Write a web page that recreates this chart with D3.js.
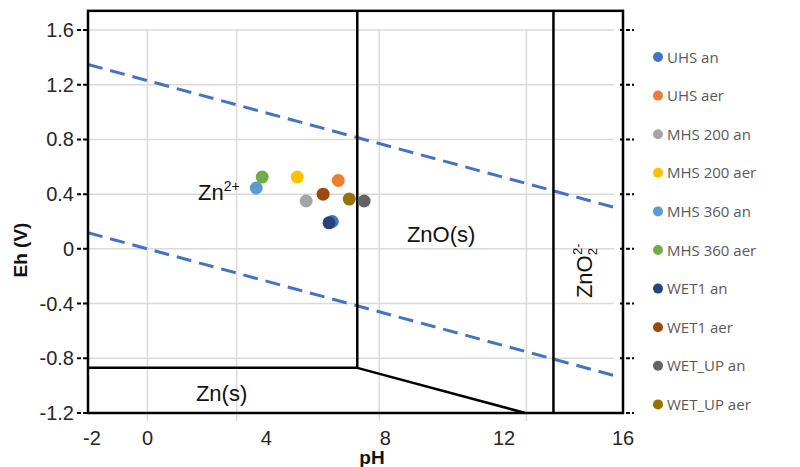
<!DOCTYPE html>
<html>
<head>
<meta charset="utf-8">
<script src="https://cdn.jsdelivr.net/npm/d3@7"></script>
<style>
  body { margin: 0; background: #fff; }
  svg { display: block; }
  .tick-label { font-family: "Liberation Sans", Arial, sans-serif; font-size: 20px; fill: #262626; }
  .aText { font-family: "Liberation Sans", Arial, sans-serif; font-size: 19px; font-weight: bold; fill: #111; }
  .region { font-family: "Liberation Sans", Arial, sans-serif; font-size: 22px; fill: #111; }
  .legend { font-family: "Open Sans", sans-serif; font-size: 15px; fill: #595959; }
</style>
</head>
<body>
<div id="chart"></div>
<script>
var svgWidth = 800;
var svgHeight = 467;

// data
var series = ["UHS an", "UHS aer", "MHS 200 an", "MHS 200 aer", "MHS 360 an",
  "MHS 360 aer", "WET1 an", "WET1 aer", "WET_UP an", "WET_UP aer"];
var colors = ["#4472C4", "#ED7D31", "#A5A5A5", "#FFC000", "#5B9BD5",
  "#70AD47", "#264478", "#9E480E", "#636363", "#997300"];
var pH = [6.22, 6.42, 5.34, 5.04, 3.66, 3.86, 6.11, 5.91, 7.29, 6.79];
var Eh = [0.20, 0.50, 0.35, 0.525, 0.445, 0.525, 0.19, 0.40, 0.35, 0.364];

var xTicks = [-2, 0, 4, 8, 12, 16];
var yTicks = [-1.2, -0.8, -0.4, 0, 0.4, 0.8, 1.2, 1.6];
var xGrid = [0, 3, 7.8, 12.75];

// Pourbaix boundaries (pH, Eh)
var zn2Bound = [[-2, -0.87], [7.06, -0.87]];
var znoLeft = [[7.06, 1.74], [7.06, -0.87], [12.71, -1.2]];
var znoRight = [[13.66, 1.74], [13.66, -1.2]];
var waterTop = [[-2, 1.348], [15.9, 0.292]];
var waterBottom = [[-2, 0.118], [15.9, -0.938]];

var labels = [
  { text: "Zn", sup: "2+", x: 1.7, y: 0.36 },
  { text: "ZnO(s)", x: 8.73, y: 0.05 },
  { text: "Zn(s)", x: 1.63, y: -1.11 }
];

var svg = d3.select("#chart").append("svg")
  .attr("width", svgWidth)
  .attr("height", svgHeight);

var xScale = d3.scaleLinear().domain([-2, 16]).range([88, 623]);
var yScale = d3.scaleLinear().domain([-1.2, 1.6]).range([413, 30]);
var yTop = 1.74;

var line = d3.line().x(d => xScale(d[0])).y(d => yScale(d[1]));

// gridlines
svg.append("g").selectAll("line")
  .data(yTicks.filter(d => d > -1.2))
  .enter().append("line")
  .attr("x1", xScale(-2)).attr("x2", 614)
  .attr("y1", d => yScale(d)).attr("y2", d => yScale(d))
  .attr("stroke", "#dadada").attr("stroke-width", 1.5);

svg.append("g").selectAll("line")
  .data(xGrid)
  .enter().append("line")
  .attr("x1", d => xScale(d)).attr("x2", d => xScale(d))
  .attr("y1", yScale(1.6)).attr("y2", yScale(-1.2) + 8)
  .attr("stroke", "#dadada").attr("stroke-width", 1.5);

// water stability lines
[waterTop, waterBottom].forEach(function(w) {
  svg.append("path")
    .attr("d", line(w))
    .attr("fill", "none")
    .attr("stroke", "#4472C4")
    .attr("stroke-width", 3)
    .attr("stroke-dasharray", "15,8");
});

// boundaries
[zn2Bound, znoLeft, znoRight].forEach(function(b) {
  svg.append("path")
    .attr("d", line(b))
    .attr("fill", "none")
    .attr("stroke", "#000")
    .attr("stroke-width", 2.5);
});

// frame
svg.append("rect")
  .attr("x", xScale(-2)).attr("y", yScale(yTop))
  .attr("width", xScale(16) - xScale(-2))
  .attr("height", yScale(-1.2) - yScale(yTop))
  .attr("fill", "none").attr("stroke", "#000").attr("stroke-width", 2.5);

// left ticks
svg.append("g").selectAll("line")
  .data(yTicks).enter().append("line")
  .attr("x1", xScale(-2) - 11).attr("x2", xScale(-2))
  .attr("y1", d => yScale(d)).attr("y2", d => yScale(d))
  .attr("stroke", "#000").attr("stroke-width", 2)
  .attr("stroke-dasharray", "4,2");

// right ticks
svg.append("g").selectAll("line")
  .data(yTicks).enter().append("line")
  .attr("x1", xScale(16) - 3).attr("x2", xScale(16) + 11)
  .attr("y1", d => yScale(d)).attr("y2", d => yScale(d))
  .attr("stroke", "#000").attr("stroke-width", 2)
  .attr("stroke-dasharray", "4,2");

// tick labels
svg.append("g").selectAll("text")
  .data(yTicks).enter().append("text")
  .attr("class", "tick-label")
  .attr("x", xScale(-2) - 14)
  .attr("y", d => yScale(d) + 7)
  .attr("text-anchor", "end")
  .text(d => String(d));

svg.append("g").selectAll("text")
  .data(xTicks).enter().append("text")
  .attr("class", "tick-label")
  .attr("x", d => xScale(d) + (d === -2 ? 4 : 0))
  .attr("y", 445)
  .attr("text-anchor", "middle")
  .text(d => String(d));

// axis titles
svg.append("text")
  .attr("class", "aText")
  .attr("x", 372).attr("y", 464)
  .attr("text-anchor", "middle")
  .text("pH");

svg.append("text")
  .attr("class", "aText")
  .attr("transform", "translate(27, 250) rotate(-90)")
  .attr("text-anchor", "middle")
  .text("Eh (V)");

// region labels
labels.forEach(function(l) {
  var t = svg.append("text")
    .attr("class", "region")
    .attr("x", xScale(l.x)).attr("y", yScale(l.y));
  t.append("tspan").text(l.text);
  if (l.sup) {
    t.append("tspan").attr("dy", -9).attr("font-size", "14px").text(l.sup);
  }
});

var zno2 = svg.append("text")
  .attr("class", "region")
  .attr("font-size", "20px")
  .attr("transform", `translate(${xScale(14.95)}, ${yScale(-0.36)}) rotate(-90)`);
zno2.append("tspan").text("ZnO");
zno2.append("tspan").attr("dy", 5).attr("font-size", "13px").text("2");
zno2.append("tspan").attr("dx", -7).attr("dy", -15).attr("font-size", "13px").text("2-");

// points
svg.append("g").selectAll("circle")
  .data(series).enter().append("circle")
  .attr("cx", (d, i) => xScale(pH[i]))
  .attr("cy", (d, i) => yScale(Eh[i]))
  .attr("r", 6.5)
  .attr("fill", (d, i) => colors[i]);

// legend
var legend = svg.append("g").selectAll("g")
  .data(series).enter().append("g")
  .attr("transform", (d, i) => `translate(658, ${57 + i * 38.6})`);

legend.append("circle")
  .attr("r", 5)
  .attr("fill", (d, i) => colors[i]);

legend.append("text")
  .attr("class", "legend")
  .attr("x", 9).attr("y", 5.5)
  .text(d => d);
</script>
</body>
</html>
